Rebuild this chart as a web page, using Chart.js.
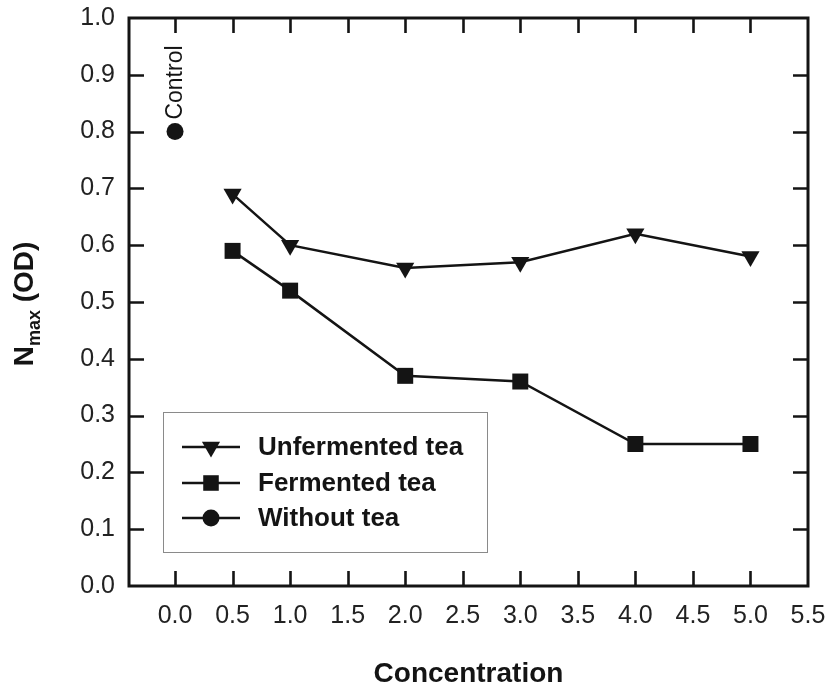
<!DOCTYPE html>
<html>
<head>
<meta charset="utf-8">
<script src="https://cdn.jsdelivr.net/npm/chart.js@4"></script>
<style>
html,body{margin:0;padding:0;background:#fff;}
#wrap{width:830px;height:691px;position:relative;}
</style>
</head>
<body>
<div id="wrap"><canvas id="c" width="830" height="691"></canvas></div>
<script>
// ---- data ----
const concentrations = [0.5, 1.0, 2.0, 3.0, 4.0, 5.0];
const unfermentedTea = [0.69, 0.60, 0.56, 0.57, 0.62, 0.58];
const fermentedTea = [0.59, 0.52, 0.37, 0.36, 0.25, 0.25];
const controlX = [0.0];
const withoutTea = [0.80];
const seriesLabels = ['Unfermented tea', 'Fermented tea', 'Without tea'];
const controlLabel = 'Control';
const xTickValues = [0.0, 0.5, 1.0, 1.5, 2.0, 2.5, 3.0, 3.5, 4.0, 4.5, 5.0, 5.5];
const yTickValues = [0.0, 0.1, 0.2, 0.3, 0.4, 0.5, 0.6, 0.7, 0.8, 0.9, 1.0];
const xAxisTitle = 'Concentration';
const yAxisTitleMain = 'N';
const yAxisTitleSub = 'max';
const yAxisTitleRest = ' (OD)';

const INK = '#141414';
const FONT = '"Liberation Sans", Arial, Helvetica, sans-serif';

function pts(xs, ys) { return xs.map((x, i) => ({ x: x, y: ys[i] })); }

function drawMarker(ctx, style, x, y, r) {
  ctx.save();
  ctx.fillStyle = INK;
  ctx.beginPath();
  if (style === 'triangleDown') {
    const h = r;
    ctx.moveTo(x, y + h);
    ctx.lineTo(x - h * Math.sqrt(3) / 2, y - h / 2);
    ctx.lineTo(x + h * Math.sqrt(3) / 2, y - h / 2);
    ctx.closePath();
  } else if (style === 'rect') {
    const s = r * Math.SQRT1_2;
    ctx.rect(x - s, y - s, 2 * s, 2 * s);
  } else {
    ctx.arc(x, y, r, 0, Math.PI * 2);
  }
  ctx.fill();
  ctx.restore();
}

const framePlugin = {
  id: 'frame',
  afterDraw(chart) {
    const ctx = chart.ctx;
    const a = chart.chartArea;
    const xs = chart.scales.x, ys = chart.scales.y;
    ctx.save();
    ctx.strokeStyle = INK;
    ctx.lineWidth = 3;
    ctx.strokeRect(a.left, a.top, a.right - a.left, a.bottom - a.top);
    ctx.lineWidth = 2.6;
    const TL = 15;
    ctx.beginPath();
    xTickValues.forEach(v => {
      if (v <= xs.min || v >= xs.max) return;
      const px = Math.round(xs.getPixelForValue(v)) + 0.5;
      ctx.moveTo(px, a.bottom); ctx.lineTo(px, a.bottom - TL);
      ctx.moveTo(px, a.top); ctx.lineTo(px, a.top + TL);
    });
    yTickValues.forEach(v => {
      if (v <= ys.min || v >= ys.max) return;
      const py = Math.round(ys.getPixelForValue(v)) + 0.5;
      ctx.moveTo(a.left, py); ctx.lineTo(a.left + TL, py);
      ctx.moveTo(a.right, py); ctx.lineTo(a.right - TL, py);
    });
    ctx.stroke();

    // y axis title with subscript
    const cy = (a.top + a.bottom) / 2 + 2;
    ctx.fillStyle = INK;
    ctx.translate(33, cy);
    ctx.rotate(-Math.PI / 2);
    ctx.textBaseline = 'alphabetic';
    ctx.textAlign = 'left';
    const fMain = 'bold 28px ' + FONT, fSub = 'bold 18px ' + FONT;
    ctx.font = fMain; const wN = ctx.measureText(yAxisTitleMain).width;
    const wR = ctx.measureText(yAxisTitleRest).width;
    ctx.font = fSub; const wS = ctx.measureText(yAxisTitleSub).width;
    const W = wN + wS + wR;
    let u = -W / 2;
    ctx.font = fMain; ctx.fillText(yAxisTitleMain, u, 0); u += wN;
    ctx.font = fSub; ctx.fillText(yAxisTitleSub, u, 7); u += wS;
    ctx.font = fMain; ctx.fillText(yAxisTitleRest, u, 0);
    ctx.restore();

    // Control label
    const meta = chart.getDatasetMeta(2);
    const el = meta.data[0];
    if (el) {
      ctx.save();
      ctx.fillStyle = INK;
      ctx.font = '23px ' + FONT;
      ctx.translate(el.x + 1, el.y - 12);
      ctx.rotate(-Math.PI / 2);
      ctx.textAlign = 'left';
      ctx.textBaseline = 'middle';
      ctx.fillText(controlLabel, 0, 0);
      ctx.restore();
    }

    // Legend box
    ctx.save();
    ctx.strokeStyle = '#8a8a8a';
    ctx.lineWidth = 1;
    ctx.strokeRect(163.5, 412.5, 324, 140);
    const rows = [447, 483, 518];
    const styles = ['triangleDown', 'rect', 'circle'];
    const radii = [10.5, 11, 8.5];
    rows.forEach((ry, i) => {
      ctx.strokeStyle = INK;
      ctx.lineWidth = 2.5;
      ctx.beginPath();
      ctx.moveTo(182, ry); ctx.lineTo(240, ry);
      ctx.stroke();
      drawMarker(ctx, styles[i], 211, ry, radii[i]);
      ctx.fillStyle = INK;
      ctx.font = 'bold 26px ' + FONT;
      ctx.textAlign = 'left';
      ctx.textBaseline = 'middle';
      ctx.fillText(chart.data.datasets[i].label, 258, ry + 1);
    });
    ctx.restore();
  }
};

new Chart(document.getElementById('c'), {
  type: 'scatter',
  data: {
    datasets: [
      {
        label: seriesLabels[0],
        data: pts(concentrations, unfermentedTea),
        showLine: true,
        borderColor: INK, backgroundColor: INK, borderWidth: 2.5,
        pointStyle: 'triangle', rotation: 180, pointRadius: 10.5,
        pointBorderWidth: 0, pointBackgroundColor: INK
      },
      {
        label: seriesLabels[1],
        data: pts(concentrations, fermentedTea),
        showLine: true,
        borderColor: INK, backgroundColor: INK, borderWidth: 2.5,
        pointStyle: 'rect', pointRadius: 11.3,
        pointBorderWidth: 0, pointBackgroundColor: INK
      },
      {
        label: seriesLabels[2],
        data: pts(controlX, withoutTea),
        showLine: true,
        borderColor: INK, backgroundColor: INK, borderWidth: 2.5,
        pointStyle: 'circle', pointRadius: 8.5,
        pointBorderWidth: 0, pointBackgroundColor: INK
      }
    ]
  },
  options: {
    responsive: false,
    animation: false,
    devicePixelRatio: 1,
    layout: { padding: { left: 0, right: 22, top: 18, bottom: 0 } },
    plugins: { legend: { display: false }, tooltip: { enabled: false }, title: { display: false } },
    scales: {
      x: {
        type: 'linear', min: -0.4, max: 5.5,
        afterBuildTicks(scale) { scale.ticks = xTickValues.map(v => ({ value: v })); },
        afterFit(scale) { scale.height = 105; scale.paddingLeft = 0; scale.paddingRight = 0; },
        grid: { display: false, drawTicks: false },
        border: { display: false },
        ticks: {
          autoSkip: false, maxRotation: 0, padding: 15, color: '#222',
          font: { family: FONT, size: 25 },
          callback: v => Number(v).toFixed(1)
        },
        title: {
          display: true, text: xAxisTitle, color: INK,
          font: { family: FONT, size: 28, weight: 'bold' },
          padding: { top: 26, bottom: 0 }
        }
      },
      y: {
        type: 'linear', min: 0, max: 1,
        afterBuildTicks(scale) { scale.ticks = yTickValues.map(v => ({ value: v })); },
        afterFit(scale) { scale.width = 129; scale.paddingTop = 0; scale.paddingBottom = 0; },
        grid: { display: false, drawTicks: false },
        border: { display: false },
        ticks: {
          autoSkip: false, padding: 14, color: '#222',
          font: { family: FONT, size: 25 },
          callback: v => Number(v).toFixed(1)
        }
      }
    }
  },
  plugins: [framePlugin]
});
</script>
</body>
</html>
